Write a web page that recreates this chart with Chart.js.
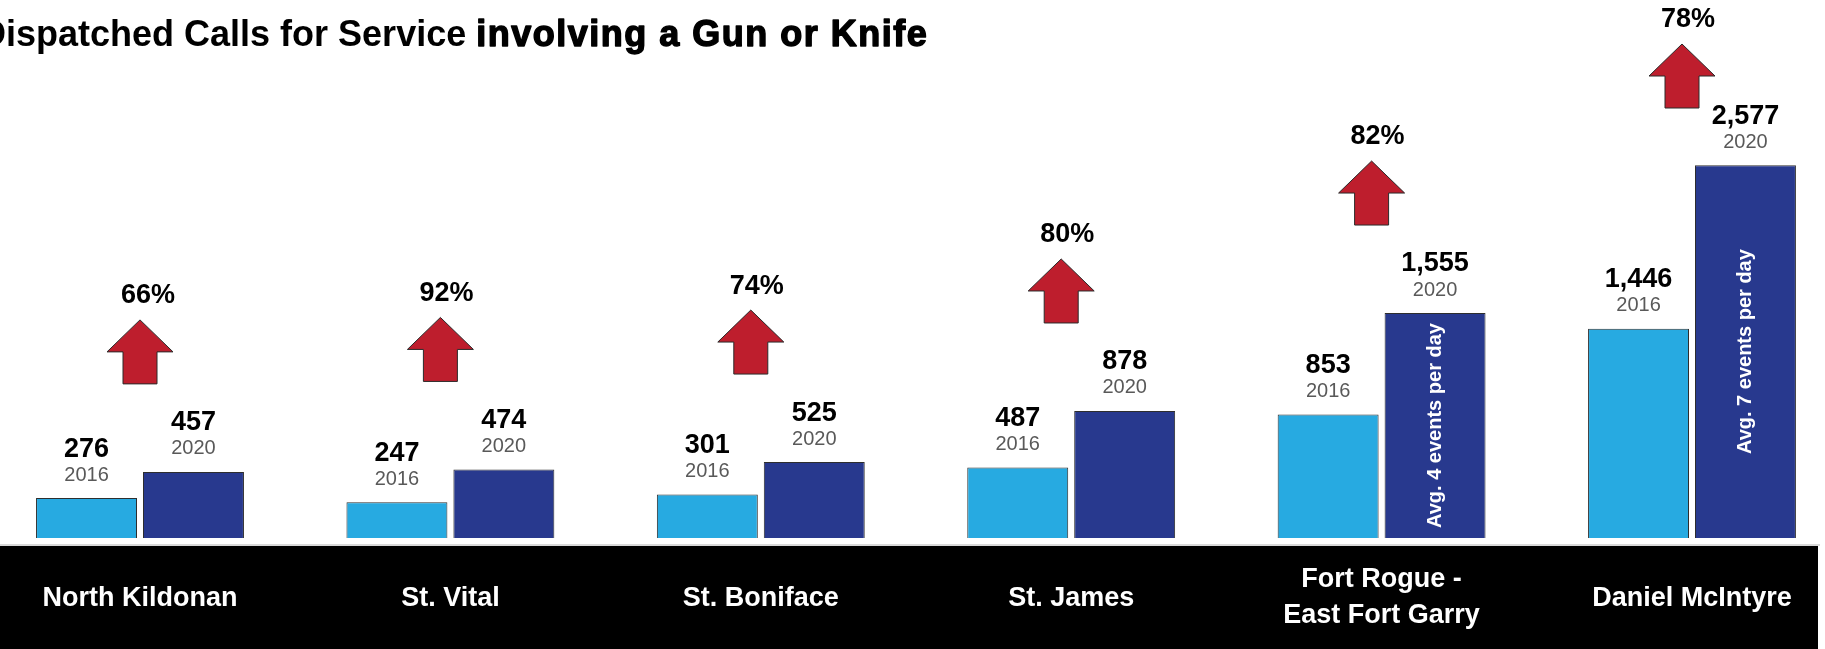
<!DOCTYPE html>
<html>
<head>
<meta charset="utf-8">
<title>Dispatched Calls for Service involving a Gun or Knife</title>
<script src="https://cdn.jsdelivr.net/npm/chart.js@4.4.1/dist/chart.umd.min.js"></script>
<style>
    html, body { margin: 0; padding: 0; background: #fff; }
    #wrap { position: relative; width: 1825px; height: 649px; }
</style>
</head>
<body>
<div id="wrap"><canvas id="calls-chart"></canvas></div>
<script>
// Chart data
const districts = ['North Kildonan', 'St. Vital', 'St. Boniface', 'St. James', ['Fort Rogue -', 'East Fort Garry'], 'Daniel McIntyre'];
const years = ['2016', '2020'];
const calls2016 = [276, 247, 301, 487, 853, 1446];
const calls2020 = [457, 474, 525, 878, 1555, 2577];
const barNotes = ['', '', '', '', 'Avg. 4 events per day', 'Avg. 7 events per day'];
const titleParts = ['Dispatched Calls for Service ', 'involving a Gun or Knife'];

const FONT = '"Liberation Sans", Arial, Helvetica, sans-serif';
const LIGHT_BLUE = '#27aae1';
const DARK_BLUE = '#28398e';
const ARROW_RED = '#be1e2d';

/**
 * Draws background, black label band and the title
 */
const backdropPlugin = {
    id: 'backdrop',
    beforeDraw(chart) {
        const ctx = chart.ctx;
        ctx.save();
        ctx.fillStyle = '#fff';
        ctx.fillRect(0, 0, chart.width, chart.height);

        // band behind district names
        ctx.fillStyle = '#d9d9d9';
        ctx.fillRect(0, 544, 1820, 2);
        ctx.fillStyle = '#000';
        ctx.fillRect(0, 546, 1818, chart.height - 546);

        // title: normal bold part, then a heavier part
        ctx.textBaseline = 'alphabetic';
        ctx.textAlign = 'left';
        ctx.fillStyle = '#000';
        ctx.font = 'bold 36px ' + FONT;
        ctx.fillText(titleParts[0], -20, 46);
        const x2 = -20 + ctx.measureText(titleParts[0]).width;
        ctx.letterSpacing = '1.5px';
        ctx.strokeStyle = '#000';
        ctx.lineWidth = 1.4;
        ctx.lineJoin = 'round';
        ctx.strokeText(titleParts[1], x2, 46);
        ctx.fillText(titleParts[1], x2, 46);
        ctx.restore();
    }
};

/**
 * Value labels, notes inside bars, change arrows and district names
 */
const labelsPlugin = {
    id: 'barLabels',
    afterDatasetsDraw(chart) {
        const ctx = chart.ctx;
        const xScale = chart.scales.x;
        const older = chart.getDatasetMeta(0).data;
        const newer = chart.getDatasetMeta(1).data;

        ctx.save();
        ctx.textAlign = 'center';
        ctx.textBaseline = 'middle';

        [older, newer].forEach((bars, d) => {
            const values = chart.data.datasets[d].data;
            bars.forEach((bar, i) => {
                ctx.fillStyle = '#000';
                ctx.font = 'bold 27px ' + FONT;
                ctx.fillText(values[i].toLocaleString('en-US'), bar.x, bar.y - 49);
                ctx.fillStyle = '#595959';
                ctx.font = '20px ' + FONT;
                ctx.fillText(years[d], bar.x, bar.y - 23);
            });
        });

        // rotated notes inside the 2020 bars
        newer.forEach((bar, i) => {
            if (!barNotes[i]) return;
            ctx.save();
            ctx.translate(bar.x, (bar.y + bar.base) / 2);
            ctx.rotate(-Math.PI / 2);
            ctx.fillStyle = '#fff';
            ctx.font = 'bold 20px ' + FONT;
            ctx.fillText(barNotes[i], 0, 0);
            ctx.restore();
        });

        // red "up" arrows with percentage change
        newer.forEach((bar, i) => {
            const cx = xScale.getPixelForValue(i) - (i === 0 ? 0 : 10);
            const bottom = Math.max(bar.y - 88, 108);
            const top = bottom - 64;
            ctx.beginPath();
            ctx.moveTo(cx, top);
            ctx.lineTo(cx + 33, top + 32);
            ctx.lineTo(cx + 17, top + 32);
            ctx.lineTo(cx + 17, bottom);
            ctx.lineTo(cx - 17, bottom);
            ctx.lineTo(cx - 17, top + 32);
            ctx.lineTo(cx - 33, top + 32);
            ctx.closePath();
            ctx.fillStyle = ARROW_RED;
            ctx.fill();
            ctx.strokeStyle = '#2a2a2a';
            ctx.lineWidth = 1;
            ctx.stroke();

            const pct = Math.round((calls2020[i] - calls2016[i]) / calls2016[i] * 100);
            ctx.fillStyle = '#000';
            ctx.font = 'bold 27px ' + FONT;
            ctx.fillText(pct + '%', xScale.getPixelForValue(i) - (i === 0 ? -8 : 4), top - 24);
        });

        // district names in the black band
        ctx.fillStyle = '#fff';
        ctx.font = 'bold 27px ' + FONT;
        chart.data.labels.forEach((label, i) => {
            const x = xScale.getPixelForValue(i);
            if (Array.isArray(label)) {
                ctx.fillText(label[0], x, 580);
                ctx.fillText(label[1], x, 616);
            } else {
                ctx.fillText(label, x, 599);
            }
        });
        ctx.restore();
    }
};

new Chart(document.getElementById('calls-chart'), {
    type: 'bar',
    data: {
        labels: districts,
        datasets: [{
            label: years[0],
            data: calls2016,
            backgroundColor: LIGHT_BLUE,
            borderColor: '#2e2e2e',
            borderWidth: 1,
            categoryPercentage: 0.689,
            barPercentage: 0.944,
            clip: false
        }, {
            label: years[1],
            data: calls2020,
            backgroundColor: DARK_BLUE,
            borderColor: '#2e2e2e',
            borderWidth: 1,
            categoryPercentage: 0.689,
            barPercentage: 0.944,
            clip: false
        }]
    },
    options: {
        responsive: true,
        maintainAspectRatio: false,
        animation: false,
        layout: {
            padding: { left: 140, right: 133, top: 104, bottom: 111 }
        },
        plugins: {
            legend: { display: false },
            tooltip: { enabled: false },
            title: { display: false }
        },
        scales: {
            x: {
                type: 'category',
                offset: false,
                display: false
            },
            y: {
                min: 0,
                max: 3000,
                display: false
            }
        }
    },
    plugins: [backdropPlugin, labelsPlugin]
});
</script>
</body>
</html>
